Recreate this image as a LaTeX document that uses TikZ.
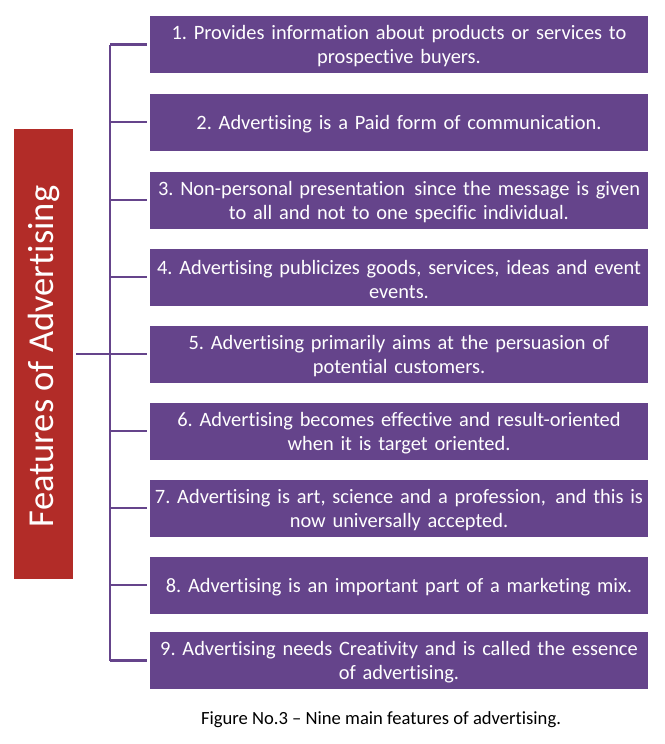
\documentclass[tikz,border=0pt]{standalone}
\usepackage{fontspec}
\setmainfont{Carlito}[Ligatures=NoCommon]
\definecolor{boxpurple}{HTML}{65448B}
\definecolor{boxred}{HTML}{B22C28}
\newcommand\featbox[3]{%
  \node[featbox] (#1) at (#2) {};
  \node[feattext] (#1t) at ([yshift=-2pt]#1.center) {#3};}
\begin{document}
\begin{tikzpicture}[x=1pt,y=-1pt,
  featbox/.style={fill=boxpurple,minimum width=498pt,minimum height=57pt,inner sep=0pt},
  feattext/.style={text=white,inner sep=0pt,text width=497pt,align=center,
    font=\frenchspacing\fontsize{20.4}{24}\selectfont},
  conn/.style={draw=boxpurple,line width=2.6pt}]
\useasboundingbox (0,0) rectangle (664,744);
\node[fill=boxred,minimum width=59pt,minimum height=450pt,inner sep=0pt] (title) at (43.5,354) {};
\node[rotate=90,text=white,font=\fontsize{36.5}{40}\selectfont] (titletext) at ([yshift=-2.5pt]title.center) {Features of Advertising};
\featbox{b1}{399,44.5}{1. Provides information about products or services to\\ prospective buyers.}
\featbox{b2}{399,122}{2. Advertising is a Paid form of communication.}
\featbox{b3}{399,200}{3. Non-personal presentation\hspace{2.5pt} since the message is given\\ to all and not to one specific individual.}
\featbox{b4}{399,277}{4. Advertising publicizes goods, services, ideas and event\\ events.}
\featbox{b5}{399,354}{5. Advertising primarily aims at the persuasion of\\ potential customers.}
\featbox{b6}{399,431}{6. Advertising becomes effective and result-oriented\\ when it is target oriented.}
\featbox{b7}{399,508}{7. Advertising is art, science and a profession,\hspace{2.5pt} and this is\\ now universally accepted.}
\featbox{b8}{399,585}{8. Advertising is an important part of a marketing mix.}
\featbox{b9}{399,660.5}{9. Advertising needs Creativity and is called the essence\\ of advertising.}
\coordinate (top) at (110,44.5);
\coordinate (bot) at (110,660.5);
\coordinate (hub) at (110,354);
\draw[conn] ([xshift=3pt]title.east |- hub) -- ([xshift=-3pt]b5.west);
\draw[conn] (top) -- (bot);
\foreach \b in {b1,b2,b3,b4,b6,b7,b8,b9}
  \draw[conn] (top |- \b.west) -- ([xshift=-3pt]\b.west);
\node[font=\frenchspacing\fontsize{18.6}{22}\selectfont] (cap) at (381,720) {Figure No.3 – Nine main features of advertising.};
\end{tikzpicture}
\end{document}
